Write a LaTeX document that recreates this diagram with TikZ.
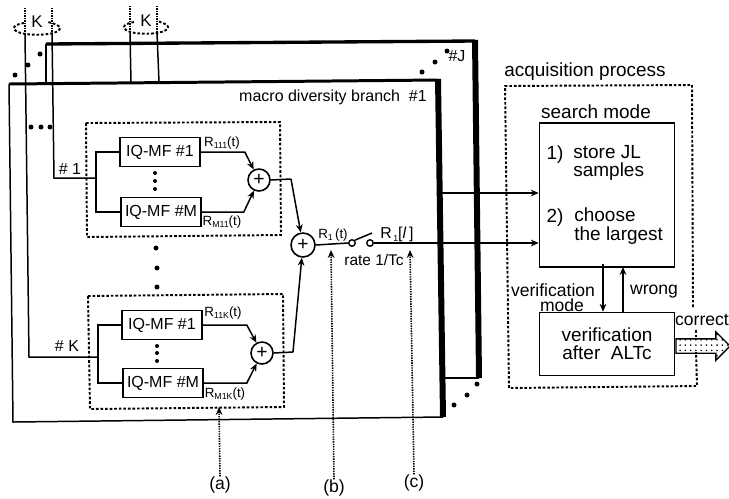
\documentclass[tikz,border=0pt]{standalone}
\usepackage{fontspec}
\setmainfont{Liberation Sans}
\usetikzlibrary{arrows.meta,shapes.arrows,patterns}
\newcommand{\subfont}{\fontsize{5}{5}\selectfont}
\newcommand{\rlabel}[1]{R\raisebox{-0.35ex}{\subfont #1}(t)}
\tikzset{
  smalltext/.style={font=\fontsize{7.6}{8}\selectfont,inner sep=0pt},
  midtext/.style={font=\fontsize{9.1}{10}\selectfont,inner sep=0pt},
  bigtext/.style={font=\fontsize{10}{11}\selectfont,inner sep=0pt},
  headtext/.style={font=\fontsize{10.8}{10.4}\selectfont,inner sep=0pt},
  wire/.style={line width=0.85pt},
  mfbox/.style={draw,line width=0.9pt,minimum width=16mm,minimum height=5.8mm,inner sep=0pt,font=\fontsize{9.1}{10}\selectfont},
  blockbox/.style={draw,line width=0.9pt,minimum width=27mm,inner sep=0pt},
  sumnode/.style={draw,circle,line width=0.9pt,minimum size=4.4mm,inner sep=0pt,font=\fontsize{11}{11}\selectfont},
  contact/.style={draw,circle,line width=0.8pt,minimum size=1.3mm,inner sep=0pt},
  dashbox/.style={line width=1.1pt,dash pattern=on 1.5pt off 1.1pt},
  dotline/.style={line width=0.9pt,dash pattern=on 0.8pt off 0.6pt},
  tip/.style={-{Stealth[length=4.5pt,width=3.8pt]}},
  blackdot/.style={fill,circle,inner sep=0pt,minimum size=1mm},
}
\begin{document}
\begin{tikzpicture}[x=0.2mm,y=-0.2mm]
  \useasboundingbox (0,0) rectangle (729,498);

  % Branch panels
  \draw[line width=1.9pt] (46,44) -- (475,41);
  \draw[line width=3.4pt] (475,40) -- (479,378);
  \draw[wire] (479,378) -- (443,378);
  \draw[wire] (46,44) -- (46,83);
  \draw[line width=1.7pt] (9,84) -- (438,80);
  \draw[line width=3.4pt] (438,79) -- (443,417);
  \draw[wire] (443,417) -- (13,422) -- (9,84);
  \node[midtext] (branchname) at (333,97) {macro diversity branch \ \#1};
  \node[midtext] (lastbranch) at (457,56) {\#J};

  % Dots between the panels
  \foreach \px/\py in {15/75,28/65,40/54,447/51,435/62,422/72,477/384,467/395,454/405,31/127,41/127,50/127}
    \node[blackdot] at (\px,\py) {};

  % Antenna wires
  \node[midtext,font=\fontsize{9.6}{10}\selectfont] (ka) at (37,22) {K};
  \node[midtext,font=\fontsize{9.6}{10}\selectfont] (kb) at (146,21) {K};
  \draw[dashbox] (24,23) .. controls (17,24) and (14,26) .. (14,28) .. controls (14,37) and (60,37) .. (60,28) .. controls (60,26) and (56,24) .. (48,22);
  \draw[dashbox] (134,22) .. controls (128,23) and (124,25) .. (124,27) .. controls (124,36) and (168,36) .. (168,27) .. controls (168,25) and (164,23) .. (157,21);
  \coordinate (wirea) at (25,8);
  \coordinate (wireb) at (52,8);
  \coordinate (wirec) at (130,6);
  \coordinate (wired) at (157,6);
  \coordinate (wireaend) at (25,33);
  \coordinate (wirebend) at (52,33);
  \coordinate (wirecend) at (130,33);
  \coordinate (wiredend) at (157,33);
  \foreach \w in {a,b,c,d}
    \draw[dotline] (wire\w) -- (wire\w end);
  \coordinate (inone) at (96,178);
  \coordinate (inkay) at (98,357);
  \draw[wire] (wireaend) -- (29,357) -- (inkay);
  \draw[wire] (wirebend) -- (54,178) -- (inone);
  \draw[wire] (wirecend) -- (131,83);
  \draw[wire] (wiredend) -- (159,82);
  \node[midtext] (numone) at (70,169) {\# 1};
  \node[midtext] (numkay) at (67,346) {\# K};

  % Upper group
  \draw[dashbox] (86,123) -- (280,122) -- (281,235) -- (87,237) -- cycle;
  \node[mfbox] (mfa) at (160,152) {IQ-MF \#1};
  \node[mfbox] (mfb) at (161,212) {IQ-MF \#M};
  \node[sumnode] (suma) at (259,180) {+};
  \draw[wire] (mfa.west) -| (inone) |- (mfb.west);
  \draw[wire,tip] (mfa.east) -- ++(44,0) -- (suma);
  \draw[wire,tip] (mfb.east) -- ++(42,0) -- (suma);
  \node[smalltext] (ra) at (222,143) {\rlabel{111}};
  \node[smalltext] (rb) at (222,222) {\rlabel{M11}};
  \foreach \py in {173,181,189}
    \node[blackdot,minimum size=0.8mm] at (155,\py) {};
  \foreach \py/\px in {248/156,268/157,287/157}
    \node[blackdot] at (\px,\py) {};

  % Lower group
  \draw[dashbox] (88,296) -- (283,294) -- (284,407) -- (90,409) -- cycle;
  \node[mfbox] (mfc) at (162,325) {IQ-MF \#1};
  \node[mfbox] (mfd) at (163,383) {IQ-MF \#M};
  \node[sumnode] (sumb) at (262,353) {+};
  \draw[wire] (mfc.west) -| (inkay) |- (mfd.west);
  \draw[wire,tip] (mfc.east) -- ++(44,0) -- (sumb);
  \draw[wire,tip] (mfd.east) -- ++(43,0) -- (sumb);
  \node[smalltext] (rc) at (223,313) {\rlabel{11K}};
  \node[smalltext] (rd) at (225,394) {\rlabel{M1K}};
  \foreach \py in {346,353,361}
    \node[blackdot,minimum size=0.8mm] at (157,\py) {};

  % Combiner and switch
  \node[sumnode,minimum size=4.8mm] (sumc) at (303,245) {+};
  \coordinate (benda) at (291,179);
  \coordinate (bendb) at (293,352);
  \draw[wire] (suma.east) -- (benda);
  \draw[wire,tip] (benda) -- (sumc);
  \draw[wire] (sumb.east) -- (bendb);
  \draw[wire,tip] (bendb) -- (sumc);
  \node[contact] (switcha) at (352,243) {};
  \node[contact] (switchb) at (370,243) {};
  \coordinate (leverend) at (372,233);
  \draw[wire] (sumc.east) -- (switcha.west);
  \draw[wire] (switcha.north east) -- (leverend);
  \node[smalltext] (rone) at (333,235) {R\raisebox{-0.35ex}{\subfont 1}\,(t)};
  \node[smalltext,font=\fontsize{9}{9}\selectfont] (rsample) at (397,234) {R\raisebox{-0.35ex}{\subfont\,1}[\textit{l}\,]};
  \node[smalltext,font=\fontsize{8.8}{9}\selectfont] (ratelabel) at (374,260) {rate 1/Tc};

  % Acquisition process
  \draw[dashbox] (693,307) -- (692,85) -- (505,86) -- (509,388) -- (697,386) -- (696,352);
  \draw[dashbox] (696,330) -- (696,338);
  \node[headtext] (acqlabel) at (585,72) {acquisition process};
  \node[blockbox,minimum height=28.8mm] (searchbox) at (607,195) {};
  \node[blockbox,minimum height=12.6mm] (verifybox) at (607,344) {};
  \node[headtext] (searchlabel) at (596,112) {search mode};
  \node[headtext] (stepone) at (555,155) {1)};
  \node[headtext,align=left,anchor=west] (storetext) at (573,163) {store JL\\samples};
  \node[headtext] (steptwo) at (555,218) {2)};
  \node[headtext,align=left,anchor=west] (choosetext) at (574,226) {choose\\the largest};
  \node[headtext,align=center] (verifytext) at (607,344) {verification\\after \ ALTc};
  \node[bigtext] (modelabela) at (553,290) {verification};
  \node[bigtext] (modelabelb) at (562,305) {mode};
  \node[bigtext] (wronglabel) at (654,292) {wrong};
  \node[bigtext] (correctlabel) at (702,320) {correct};
  \coordinate (downtop) at (603,264);
  \coordinate (uptop) at (623,267);
  \draw[wire,tip] (downtop) -- (downtop |- verifybox.north);
  \draw[wire,tip] (uptop |- verifybox.north) -- (uptop);
  \coordinate (upperin) at (441,193);
  \draw[wire,tip] (upperin) -- (searchbox.west |- upperin);
  \draw[wire,tip] (switchb.east) -- (searchbox.west |- switchb);
  \node[draw,single arrow,line width=0.8pt,minimum width=5.6mm,minimum height=10.8mm,
    single arrow head extend=1.4mm,single arrow head indent=0pt,inner sep=1.3mm,
    pattern=dots,anchor=west] (correctarrow) at (verifybox.east |- 0,346) {};

  % Probe points
  \node[bigtext] (proba) at (220,485) {(a)};
  \node[bigtext] (probb) at (334,488) {(b)};
  \node[bigtext] (probc) at (414,483) {(c)};
  \coordinate (tipa) at (219,407);
  \coordinate (tipb) at (331,250);
  \coordinate (tipc) at (410,250);
  \draw[dotline,tip] (proba.north) -- (tipa);
  \draw[dotline,tip] (probb.north) -- (tipb);
  \draw[dotline,tip] (probc.north) -- (tipc);
\end{tikzpicture}
\end{document}
